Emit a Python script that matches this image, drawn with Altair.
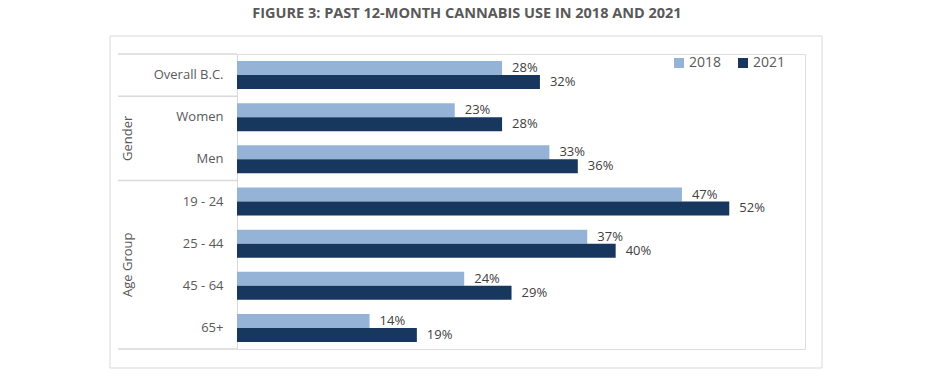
import altair as alt
import pandas as pd

categories = ["Overall B.C.", "Women", "Men", "19 - 24", "25 - 44", "45 - 64", "65+"]
years = ["2018", "2021"]
values_2018 = [28, 23, 33, 47, 37, 24, 14]
values_2021 = [32, 28, 36, 52, 40, 29, 19]
groups = ["Gender", "Age Group"]

rows = []
for c, a, b in zip(categories, values_2018, values_2021):
    rows.append({"category": c, "year": "2018", "value": a, "label": f"{a}%"})
    rows.append({"category": c, "year": "2021", "value": b, "label": f"{b}%"})
df = pd.DataFrame(rows)

FONT = "Open Sans"
W, H = 568, 295
LINE = "#D9D9D9"

y_enc = alt.Y("category:N", sort=categories,
              scale=alt.Scale(paddingInner=0.336, paddingOuter=0.168),
              axis=alt.Axis(title=None, ticks=False, labelPadding=14, labelFontSize=13,
                            labelFont=FONT, labelColor="#595959", domainColor=LINE,
                            domainWidth=1))
yoff = alt.YOffset("year:N", sort=years, scale=alt.Scale(paddingInner=0, paddingOuter=0))
x_enc = alt.X("value:Q", scale=alt.Scale(domain=[0, 60]), axis=None)

base = alt.Chart(df)

bars = base.mark_bar().encode(
    y=y_enc, yOffset=yoff, x=x_enc,
    color=alt.Color("year:N", sort=years,
                    scale=alt.Scale(domain=years, range=["#95B3D7", "#17375E"]),
                    legend=alt.Legend(title=None, orient="none", legendX=435, legendY=2,
                                      direction="horizontal", symbolType="square",
                                      symbolSize=100, symbolStrokeWidth=0,
                                      labelFont=FONT, labelFontSize=14,
                                      labelColor="#595959", columnPadding=14,
                                      labelOffset=3)),
)

labels = base.mark_text(align="left", baseline="middle", dx=10, font=FONT,
                        fontSize=13, color="#404040").encode(
    y=alt.Y("category:N", sort=categories), yOffset=yoff, x=x_enc, text="label:N")

one = alt.Data(values=[{"k": 1}])

frame = alt.Chart(one).mark_rect(fill=None, stroke=LINE, strokeWidth=1, clip=False).encode(
    x=alt.value(-127), x2=alt.value(585), y=alt.value(-18), y2=alt.value(314))

step = H / 7
rule_layers = []
for yy in [0, step, 3 * step, H]:
    rule_layers.append(
        alt.Chart(one).mark_rule(color=LINE, strokeWidth=1.5).encode(
            x=alt.value(-119), x2=alt.value(0), y=alt.value(yy)))

group_gender = alt.Chart(one).mark_text(angle=270, font=FONT, fontSize=13,
                                         color="#595959", baseline="middle",
                                         align="center").encode(
    x=alt.value(-109), y=alt.value(2 * step), text=alt.value(groups[0]))
group_age = alt.Chart(one).mark_text(angle=270, font=FONT, fontSize=13,
                                      color="#595959", baseline="middle",
                                      align="center").encode(
    x=alt.value(-109), y=alt.value(5 * step), text=alt.value(groups[1]))

chart = alt.layer(frame, *rule_layers, bars, labels, group_gender, group_age).properties(
    width=W, height=H,
    title=alt.TitleParams("FIGURE 3: PAST 12-MONTH CANNABIS USE IN 2018 AND 2021",
                          font=FONT, fontSize=14.5, fontWeight="bold", color="#595959",
                          anchor="middle", dx=-54, offset=14),
    autosize=alt.AutoSizeParams(type="none"),
    padding={"left": 229, "top": 46, "right": 100, "bottom": 20},
).configure_view(stroke=None).configure(background="white")

chart.save("out.html", embed_options={"renderer": "svg", "actions": False})
